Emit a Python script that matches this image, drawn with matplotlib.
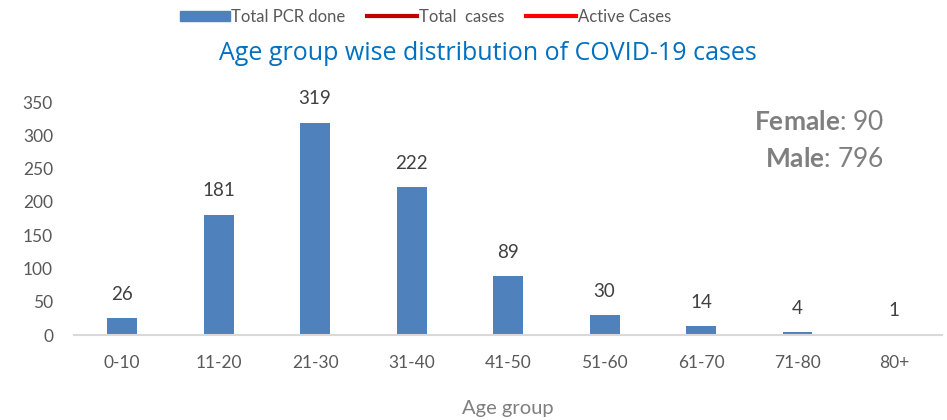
import matplotlib
matplotlib.use("Agg")
from matplotlib import pyplot as plt
from matplotlib.patches import Patch
from matplotlib.lines import Line2D

# data
age_groups = ["0-10", "11-20", "21-30", "31-40", "41-50", "51-60", "61-70", "71-80", "80+"]
cases = [26, 181, 319, 222, 89, 30, 14, 4, 1]
female = 90
male = 796

plt.rcParams['font.family'] = ['Lato', 'DejaVu Sans']
plt.rcParams['mathtext.fontset'] = 'custom'
plt.rcParams['mathtext.rm'] = 'Lato'
plt.rcParams['mathtext.bf'] = 'Lato:bold'

fig = plt.figure(figsize=(9.47, 4.2), dpi=100)
ax = fig.add_axes([0.078, 0.202, 0.917, 0.555])

x = range(len(age_groups))
bars = ax.bar(x, cases, width=0.31, color='#4F81BD', zorder=2)
for xi, v in zip(x, cases):
	ax.annotate(str(v), (xi, v), xytext=(0, 11), textcoords='offset points',
		ha='center', va='bottom', fontsize=13.5, color='#404040')

ax.set_xlim(-0.5, 8.5)
ax.set_ylim(0, 350)
ax.set_yticks(range(0, 351, 50))
ax.set_xticks(list(x))
ax.set_xticklabels(age_groups)
ax.tick_params(axis='both', length=0, labelsize=12.5, colors='#595959')
ax.tick_params(axis='x', pad=14)
ax.tick_params(axis='y', pad=15)
for s in ['top', 'right', 'left']:
	ax.spines[s].set_visible(False)
ax.spines['bottom'].set_color('#D9D9D9')
ax.spines['bottom'].set_linewidth(1.5)

ax.set_xlabel('Age group', fontsize=14.5, color='#7F7F7F', labelpad=21)

# title and sex totals
fig.text(0.515, 0.872, 'Age group wise distribution of COVID-19 cases',
	ha='center', va='center', fontsize=18, color='#0070C0', family=['Open Sans', 'DejaVu Sans'])
ax.text(0.933, 0.914, r'$\bf{Female}$: %d' % female, transform=ax.transAxes, ha='right', va='center',
	fontsize=19, color='#7F7F7F')
ax.text(0.933, 0.755, r'$\bf{Male}$: %d' % male, transform=ax.transAxes, ha='right', va='center',
	fontsize=19, color='#7F7F7F')

# legend
handles = [Patch(color='#4F81BD'),
	Line2D([], [], color='#C00000', lw=3),
	Line2D([], [], color='#FF0000', lw=3)]
labels = ['Total PCR done', 'Total  cases', 'Active Cases']
fig.legend(handles, labels, loc='center', bbox_to_anchor=(0.449, 0.96), ncol=3,
	frameon=False, fontsize=12, labelcolor='#595959', handlelength=3.0,
	handletextpad=0.1, columnspacing=1.3, handleheight=0.6)

fig.savefig('out.png', dpi=100)
